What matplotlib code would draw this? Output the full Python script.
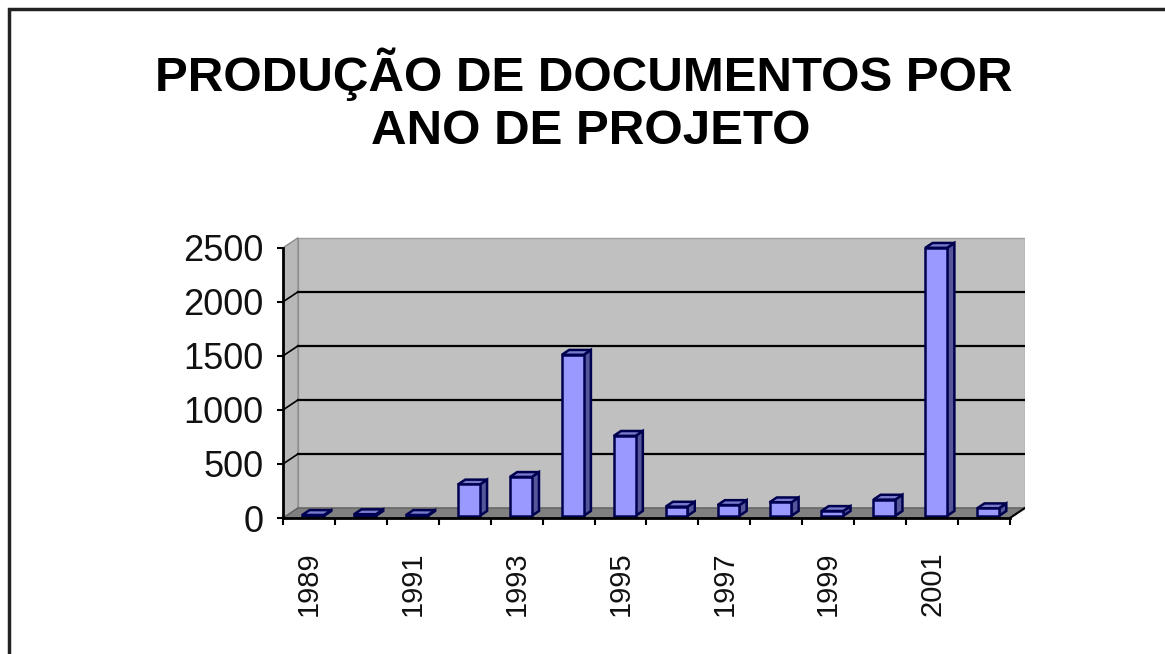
import matplotlib.pyplot as plt
from matplotlib.patches import Polygon, Rectangle

plt.rcParams["font.family"] = ["Liberation Sans", "DejaVu Sans"]

# dados
anos = [1989, 1990, 1991, 1992, 1993, 1994, 1995, 1996, 1997, 1998, 1999, 2000, 2001, 2002]
documentos = [8, 15, 8, 290, 360, 1490, 740, 85, 100, 125, 45, 150, 2480, 70]
y_ticks = [0, 500, 1000, 1500, 2000, 2500]

titulo_1 = "PRODUÇÃO DE DOCUMENTOS POR"
titulo_2 = "ANO DE PROJETO"

# profundidade do efeito 3D (categoria, valor)
wall_dx, wall_dy = 0.29, 93
bar_dx, bar_dy = 0.14, 45
bar_off_x, bar_off_y = 0.08, 20
bar_w = 0.42

n = len(anos)

fig = plt.figure(figsize = (11.65, 6.54), dpi = 100)
ax = fig.add_axes([283 / 1165, 136 / 654, 742 / 1165, 281 / 654])
ax.set_xlim(0, n + wall_dx)
ax.set_ylim(0, 2600)
ax.patch.set_visible(False)

# parede do fundo, parede lateral e piso
ax.add_patch(Rectangle((wall_dx, wall_dy), n, y_ticks[-1], facecolor = "#c0c0c0", edgecolor = "#a0a0a0", lw = 1, zorder = 0))
ax.add_patch(Polygon([(0, 0), (wall_dx, wall_dy), (wall_dx, y_ticks[-1] + wall_dy), (0, y_ticks[-1])],
                     facecolor = "#b8b8b8", edgecolor = "#8a8a8a", lw = 1, zorder = 0))
ax.add_patch(Polygon([(0, 0), (n, 0), (n + wall_dx, wall_dy), (wall_dx, wall_dy)],
                     facecolor = "#808080", edgecolor = "#606060", lw = 1, zorder = 1))

# linhas de grade
for v in y_ticks[1:-1]:
    ax.plot([wall_dx, n + wall_dx], [v + wall_dy, v + wall_dy], color = "black", lw = 1.6, zorder = 1)
    ax.plot([0, wall_dx], [v, v + wall_dy], color = "black", lw = 1.2, zorder = 1)

# barras
x_front = [i + (1 - bar_w) / 2 + bar_off_x for i in range(n)]
ax.bar(x_front, documentos, width = bar_w, bottom = bar_off_y, align = "edge",
       color = "#9999ff", edgecolor = "#000050", lw = 1.8, zorder = 4)
for x0, v in zip(x_front, documentos):
    y0 = bar_off_y
    side = [(x0 + bar_w, y0), (x0 + bar_w + bar_dx, y0 + bar_dy),
            (x0 + bar_w + bar_dx, y0 + v + bar_dy), (x0 + bar_w, y0 + v)]
    top = [(x0, y0 + v), (x0 + bar_dx, y0 + v + bar_dy),
           (x0 + bar_w + bar_dx, y0 + v + bar_dy), (x0 + bar_w, y0 + v)]
    ax.add_patch(Polygon(side, facecolor = "#55559a", edgecolor = "#000050", lw = 1.8, zorder = 3))
    ax.add_patch(Polygon(top, facecolor = "#7a7acc", edgecolor = "#000050", lw = 1.8, zorder = 3))

# eixos
for s in ["top", "right"]:
    ax.spines[s].set_visible(False)
ax.spines["left"].set_bounds(0, y_ticks[-1])
ax.spines["bottom"].set_bounds(0, n)
ax.spines["left"].set_linewidth(2)
ax.spines["bottom"].set_linewidth(2)
ax.spines["left"].set_zorder(5)
ax.spines["bottom"].set_zorder(5)
ax.plot([n, n + wall_dx], [0, wall_dy], color = "black", lw = 1.5, zorder = 5)

ax.set_yticks(y_ticks)
ax.set_yticklabels([str(v) for v in y_ticks], fontsize = 26, color = "#111111")
ax.tick_params(axis = "y", length = 4, width = 1.5, pad = 10)

ax.set_xticks([i + 0.5 for i in range(n)])
ax.set_xticklabels([str(a) if i % 2 == 0 else "" for i, a in enumerate(anos)],
                   rotation = 90, fontsize = 21, color = "#111111", va = "top")
ax.tick_params(axis = "x", length = 0, pad = 24)
ax.set_xticks(list(range(n + 1)), minor = True)
ax.tick_params(axis = "x", which = "minor", length = 5, width = 1.5)

# titulo
fig.text(584 / 1165, 1 - 74 / 654, titulo_1, ha = "center", va = "center", fontsize = 35.5, fontweight = "bold")
fig.text(591 / 1165, 1 - 132 / 654, titulo_2, ha = "center", va = "center", fontsize = 35.5, fontweight = "bold")

# moldura
fig.add_artist(Rectangle((9 / 1165, -0.05), 1.1, 1 - 9 / 654 + 0.05, transform = fig.transFigure,
                         fill = False, lw = 2.5, edgecolor = "#222222"))

fig.savefig("out.png", dpi = 100)
